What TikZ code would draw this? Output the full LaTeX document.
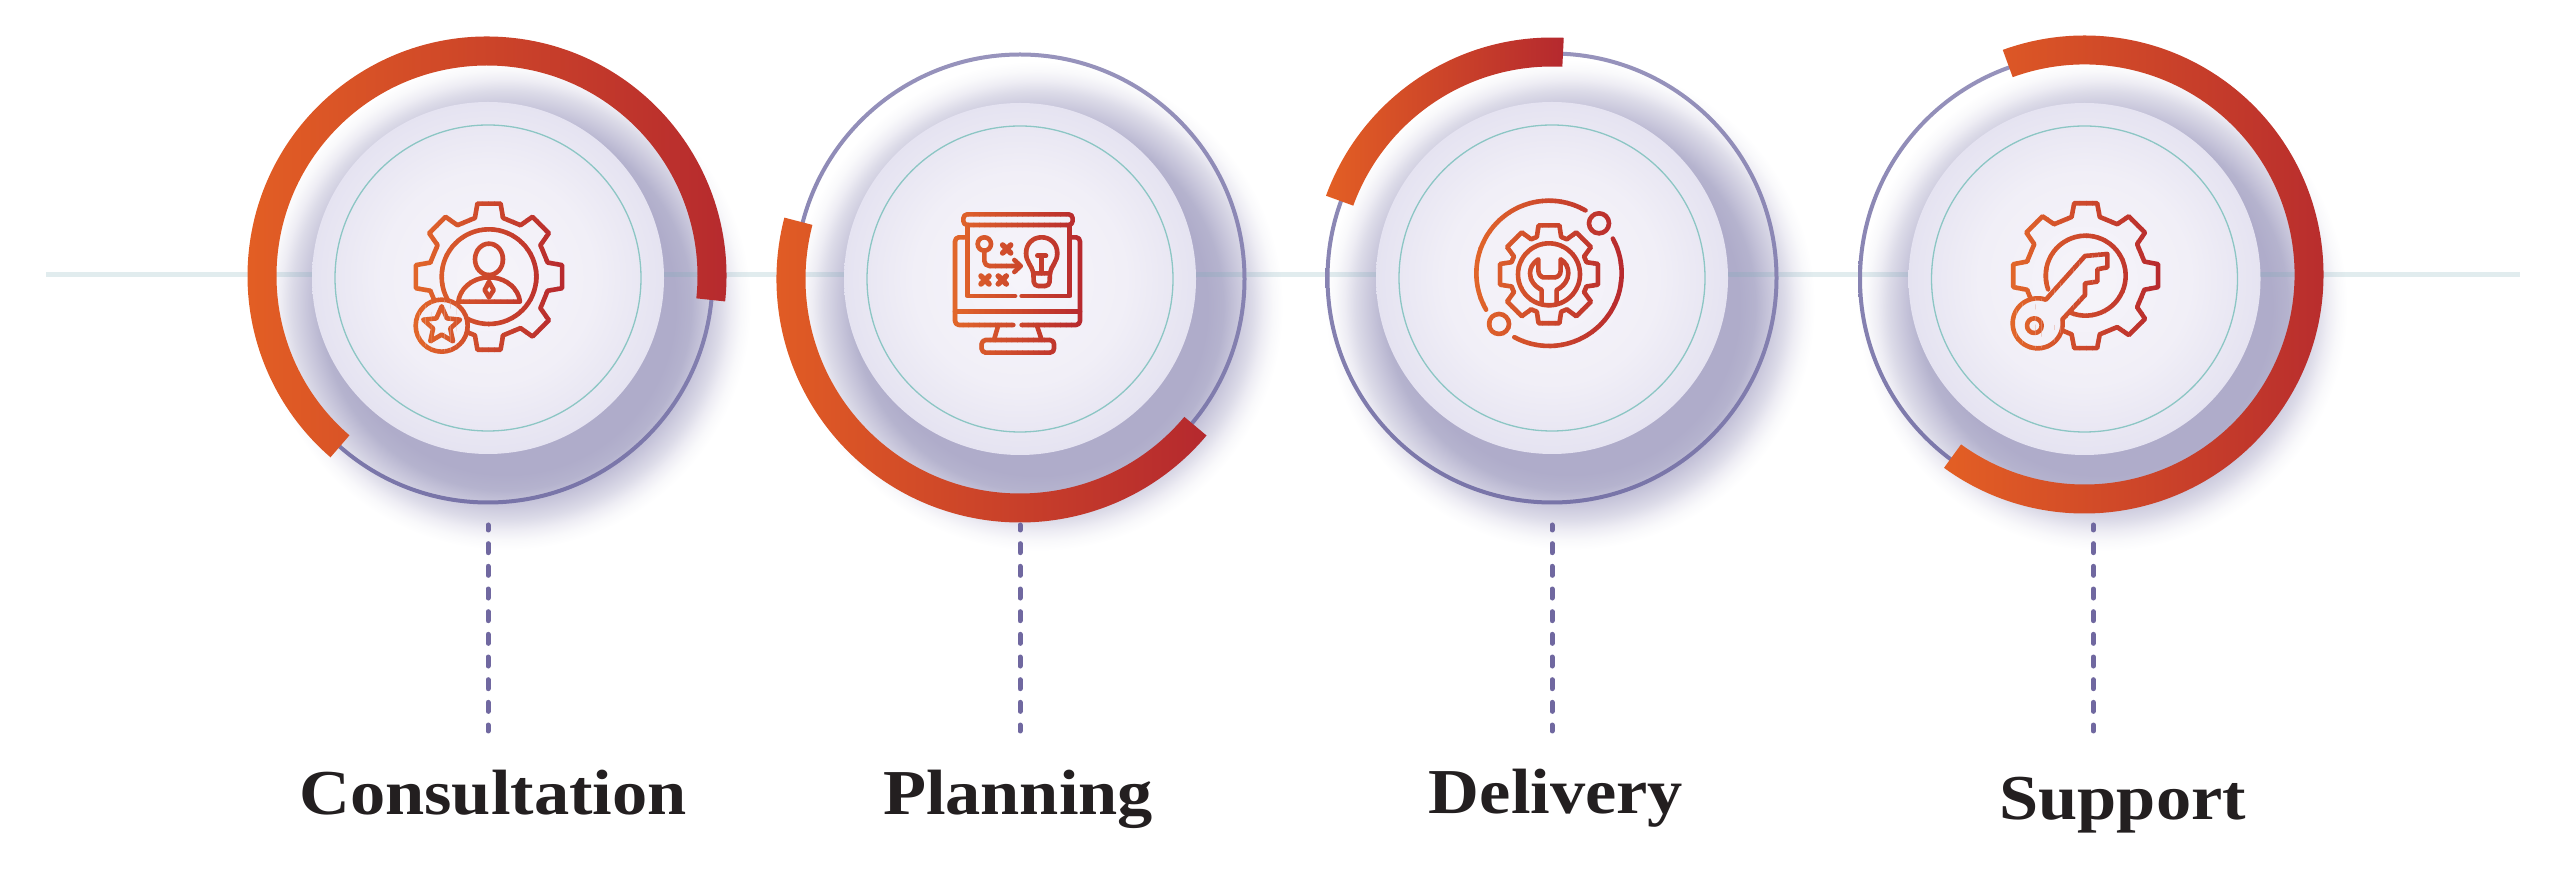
\documentclass[tikz,border=0pt]{standalone}
\usepackage{fontspec}
\newfontfamily\labfont[FakeStretch=1.1]{Liberation Serif Bold}
\usetikzlibrary{calc}
\definecolor{shA}{HTML}{AFACCA}
\definecolor{shB}{HTML}{B5B3CE}
\definecolor{shC}{HTML}{C5C3D9}
\definecolor{shD}{HTML}{DCDBE8}
\definecolor{shE}{HTML}{EEEDF4}
\definecolor{shF}{HTML}{F9F9FB}
\definecolor{dkA}{HTML}{F6F4FA}
\definecolor{dkB}{HTML}{F1EFF7}
\definecolor{dkC}{HTML}{E5E3F1}
\definecolor{arcor}{HTML}{E35F24}
\definecolor{arcre}{HTML}{B5292E}
\definecolor{icor}{HTML}{E2672A}
\definecolor{icre}{HTML}{B7292E}
\definecolor{ringtop}{HTML}{9793BC}
\definecolor{ringbot}{HTML}{7874A8}
\definecolor{teal1}{HTML}{8CC6C4}
\definecolor{dashc}{HTML}{7068A0}
\definecolor{axisl}{HTML}{78AAB4}
\definecolor{ink}{HTML}{231F20}
\definecolor{iconbg}{HTML}{F3F1F8}
\pgfdeclareradialshading{dropsh}{\pgfpointorigin}{color(0bp)=(shA); color(17.3bp)=(shA); color(18.9bp)=(shB); color(20.1bp)=(shC); color(21.9bp)=(shD); color(23bp)=(shE); color(24bp)=(shF); color(25bp)=(white); color(50bp)=(white)}
\pgfdeclareradialshading{discsh}{\pgfpointorigin}{color(0bp)=(dkA); color(15bp)=(dkB); color(25bp)=(dkC); color(50bp)=(dkC)}
\tikzset{
  icl/.style={draw=icc,line width=4.6pt,line join=round,line cap=round},
  labeltext/.style={anchor=base,text=ink,font=\fontsize{64}{65}\selectfont\labfont,inner sep=0pt},
  dashline/.style={draw=dashc,line width=5pt,line cap=round,dash pattern=on 9pt off 13.67pt,dash phase=4pt},
  axisline/.style={draw=axisl,line width=5pt,opacity=.22},
  tealring/.style={draw=teal1,line width=1.3pt},
}
% shadow, ring, disc, teal circle
\newcommand\dropshadow[2]{\shade[shading=dropsh] (#1+18,#2-27) circle[radius=245];}
\newcommand\ringdisc[2]{%
  \path[top color=ringtop,bottom color=ringbot,even odd rule] (#1,#2) circle[radius=226.5] (#1,#2) circle[radius=222.5];
  \shade[shading=discsh] (#1,#2) circle[radius=176];
  \draw[tealring] (#1,#2) circle[radius=153];}
% thick gradient arc: cx cy r start end
\newcommand\gradarc[5]{%
  \path[left color=arcor,right color=arcre]
   ({#1+(#3+14.5)*cos(#4)},{#2+(#3+14.5)*sin(#4)}) arc[start angle=#4,end angle=#5,radius=#3+14.5]
   -- ({#1+(#3-14.5)*cos(#5)},{#2+(#3-14.5)*sin(#5)}) arc[start angle=#5,end angle=#4,radius=#3-14.5] -- cycle;}
% gear: cx cy router rvalley halftop halfbase
\newcommand\geartrace[6]{%
  \draw[icl] ({#1+#3*cos(-#5)},{#2+#3*sin(-#5)})
   \foreach \k in {0,45,...,315}{ -- ({#1+#3*cos(\k-#5)},{#2+#3*sin(\k-#5)}) -- ({#1+#3*cos(\k+#5)},{#2+#3*sin(\k+#5)}) -- ({#1+#4*cos(\k+#6)},{#2+#4*sin(\k+#6)}) -- ({#1+#4*cos(\k+45-#6)},{#2+#4*sin(\k+45-#6)}) } -- cycle;}
% gradient stroke by vertical strips: x0 x1 icon
\newcommand\gradicon[3]{%
  \foreach \i in {0,...,23}{%
    \pgfmathsetmacro\xa{#1+(#2-#1)*\i/24-(\i==0)*20}%
    \pgfmathsetmacro\xb{#1+(#2-#1)*(\i+1)/24+0.5+(\i==23)*20}%
    \pgfmathsetmacro\pc{100*(\i+.5)/24}%
    \colorlet{icc}{icre!\pc!icor}%
    \begin{scope}
      \clip (\xa,500) rectangle (\xb,720);
      #3
    \end{scope}}}
\newcommand\iconA{%
 \begin{scope}[shift={(390pt,690pt)},x=0.33333pt,y=-0.33333pt]
  \geartrace{297}{290}{222}{181}{9}{13.5}
  \draw[icl] (297,290) circle[radius=142];
  \draw[icl] (297,238) circle[x radius=42,y radius=47];
  \draw[icl] (205,365) .. controls (210,325) and (245,298) .. (283,293) -- (312,293) .. controls (350,298) and (385,325) .. (390,365) -- cycle;
  \draw[icl] (297,305) -- (284,330) -- (297,352) -- (311,330) -- cycle;
  \draw[icl,fill=iconbg] (155,437) circle[radius=78];
  \draw[icl] ({155+58*cos(-90)},{437+58*sin(-90)}) \foreach \k in {0,72,...,288}{ -- ({155+27*cos(\k-54)},{437+27*sin(\k-54)}) -- ({155+58*cos(\k-18)},{437+58*sin(\k-18)}) } -- cycle;
 \end{scope}}
\newcommand\iconB{%
 \begin{scope}[shift={(920pt,680pt)},x=0.33333pt,y=-0.33333pt]
  \draw[icl,rounded corners=4pt] (130,73) rectangle (458,105);
  \draw[icl] (285,318) -- (142,318) -- (142,105);
  \draw[icl] (305,318) -- (448,318) -- (448,105);
  \draw[icl,rounded corners=4pt] (140,142) -- (105,142) -- (105,405) -- (280,405);
  \draw[icl,rounded corners=4pt] (305,405) -- (480,405) -- (480,142) -- (450,142);
  \draw[icl] (105,365) -- (480,365);
  \draw[icl] (235,405) -- (222,450);
  \draw[icl] (350,405) -- (365,450);
  \draw[icl,rounded corners=4pt] (185,450) rectangle (402,488);
  \draw[icl] (193,162) circle[radius=20];
  \draw[icl,rounded corners=5pt] (193,182) -- (193,228) -- (300,228);
  \draw[icl] (283,210) -- (302,228) -- (283,246);
  \foreach \mx/\my in {260/177,195/270,247/270}{%
    \draw[icl,line width=5.5pt] (\mx-12,\my-12) -- (\mx+12,\my+12) (\mx-12,\my+12) -- (\mx+12,\my-12);}
  \draw[icl] (340,250) .. controls (335,225) and (318,215) .. (318,190) .. controls (318,160) and (340,142) .. (365,142) .. controls (390,142) and (412,160) .. (412,190) .. controls (412,215) and (395,225) .. (390,250) -- cycle;
  \draw[icl,rounded corners=4pt] (340,250) -- (342,288) -- (388,288) -- (390,250);
  \draw[icl] (365,197) -- (365,250) (352,197) -- (378,197);
 \end{scope}}
\newcommand\iconC{%
 \begin{scope}[shift={(1450pt,690pt)},x=0.33333pt,y=-0.33333pt]
  \draw[icl] plot[domain=150:300,samples=40] ({297+218*cos(\x)},{280+218*sin(\x)});
  \draw[icl] plot[domain=-28.5:118.5,samples=40] ({297+218*cos(\x)},{280+218*sin(\x)});
  \draw[icl] (447,130) circle[radius=30];
  \draw[icl] (147,432) circle[radius=30];
  \geartrace{297}{283}{150}{118}{12}{18}
  \draw[icl] (297,283) circle[radius=93];
  \draw[icl] (275,372) -- (275,330) .. controls (252,318) and (240,300) .. (240,280) .. controls (240,262) and (250,248) .. (265,238) -- (265,272) .. controls (265,285) and (275,292) .. (280,292) -- (315,292) .. controls (322,292) and (332,285) .. (332,272) -- (332,238) .. controls (348,248) and (355,262) .. (355,280) .. controls (355,300) and (342,318) .. (320,330) -- (320,372);
 \end{scope}}
\newcommand\iconD{%
 \begin{scope}[shift={(1990pt,690pt)},x=0.33333pt,y=-0.33333pt]
  \geartrace{287}{287}{220}{181}{9}{13.5}
  \draw[icl] plot[domain=160:473,samples=50] ({287+120*cos(\x)},{287+120*sin(\x)});
  \draw[icl,fill=iconbg] plot[domain=-71:-369,samples=60] ({143+75*cos(\x)},{430+75*sin(\x)}) -- (285,345) -- (285,310) -- (322,305) -- (322,268) -- (352,262) -- (352,222) -- (285,228) -- cycle;
  \draw[icl] (133,437) circle[radius=22];
 \end{scope}}
\begin{document}
\begin{tikzpicture}[x=1pt,y=1pt]
\useasboundingbox (0,0) rectangle (2560,870);
\fill[white] (0,0) rectangle (2560,870);
% soft shadows first
\dropshadow{488}{592}
\dropshadow{1020}{591}
\dropshadow{1552}{592}
\dropshadow{2084.5}{591}
% long axis through all circles
\coordinate (axisa) at (46,595);
\coordinate (axisb) at (2520,595);
\draw[axisline] (axisa) -- (axisb);
% rings and discs
\ringdisc{488}{592}
\ringdisc{1020}{591}
\ringdisc{1552}{592}
\ringdisc{2084.5}{591}
% progress arcs
\gradarc{487}{594}{225}{-6.1}{229.2}
\gradarc{1020}{591}{229}{165.4}{320}
\gradarc{1552}{592}{226}{87.2}{160}
\gradarc{2084.5}{595.5}{224.5}{-126}{110}
% icons
\gradicon{413}{563}{\iconA}
\gradicon{952}{1082}{\iconB}
\gradicon{1472}{1625}{\iconC}
\gradicon{2010}{2162}{\iconD}
% labels
\node[labeltext] (lab1) at (493,55) {Consultation};
\node[labeltext] (lab2) at (1018,55) {Planning};
\node[labeltext] (lab3) at (1556,56) {Delivery};
\node[labeltext] (lab4) at (2122.7,50) {Support};
% dashed leaders
\coordinate (d1a) at (488,345); \coordinate (d1b) at (488,139);
\coordinate (d2a) at (1020,345); \coordinate (d2b) at (1020,139);
\coordinate (d3a) at (1552,345); \coordinate (d3b) at (1552,139);
\coordinate (d4a) at (2093.3,345); \coordinate (d4b) at (2093.3,139);
\draw[dashline] (d1a) -- (d1b);
\draw[dashline] (d2a) -- (d2b);
\draw[dashline] (d3a) -- (d3b);
\draw[dashline] (d4a) -- (d4b);
\end{tikzpicture}
\end{document}
